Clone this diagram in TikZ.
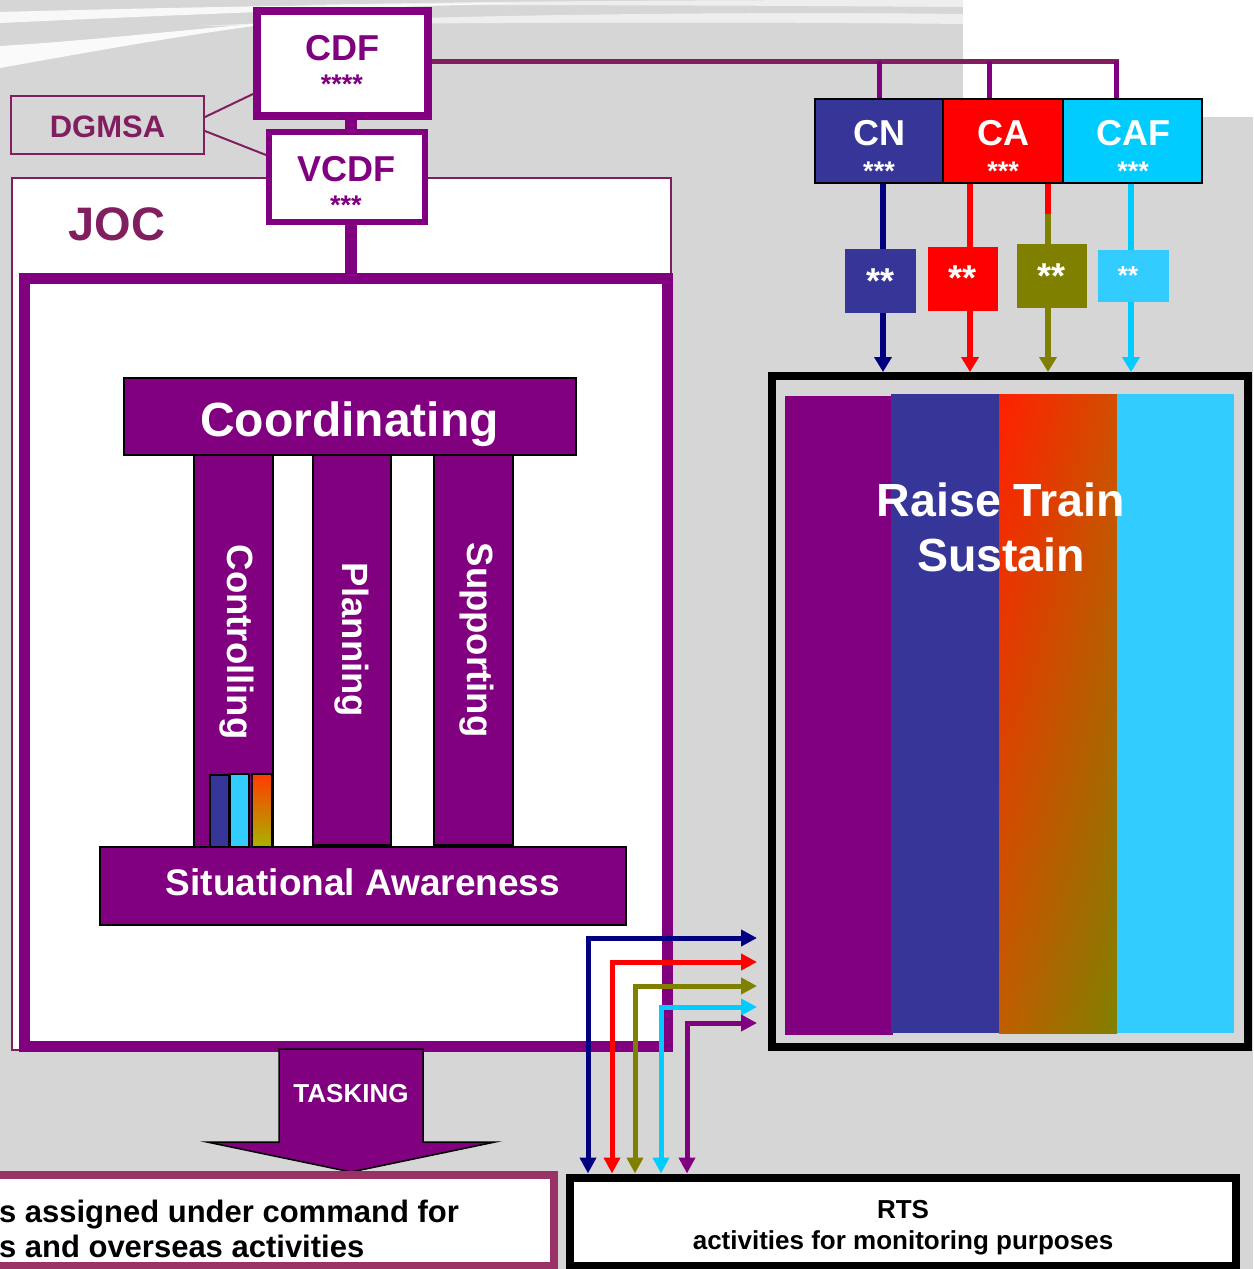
\documentclass[tikz,border=0pt]{standalone}
\usepackage{fontspec}
\setmainfont{Liberation Sans}
\usepackage{graphicx}
\usetikzlibrary{arrows.meta,calc,shadings}
\definecolor{bggray}{RGB}{214,214,214}
\definecolor{purp}{RGB}{128,0,128}
\definecolor{plum}{RGB}{128,30,96}
\definecolor{rose}{RGB}{153,51,102}
\definecolor{cnblue}{RGB}{54,54,152}
\definecolor{navyc}{RGB}{0,0,128}
\definecolor{redc}{RGB}{255,0,0}
\definecolor{olivec}{RGB}{128,128,0}
\definecolor{cafc}{RGB}{0,204,255}
\definecolor{ltcyan}{RGB}{51,204,255}
\definecolor{gradtop}{RGB}{255,32,0}
\definecolor{gradtr}{RGB}{210,78,0}
\definecolor{gradbl}{RGB}{192,94,0}
\definecolor{smtop}{RGB}{255,60,0}
\definecolor{smbot}{RGB}{160,190,0}
\newcommand\fs[1]{\fontsize{#1}{#1}\selectfont}
\begin{document}
\begin{tikzpicture}[x=1pt,y=-1pt,
  box/.style={rectangle, inner sep=0pt},
  txt/.style={inner sep=0pt, outer sep=0pt},
  wtxt/.style={txt, text=white},
  bar/.style={line width=12pt, purp},
  lw6/.style={line width=6pt},
  arr/.style={line width=6pt, -{Triangle[width=17pt,length=15pt]}},
  fb/.style={line width=5pt, {Triangle[width=16pt,length=16pt]}-{Triangle[width=16pt,length=16pt]}},
  cbox/.style={box, draw=black, line width=2pt},
]
\useasboundingbox (0,0) rectangle (1253,1269);
% backdrop
\fill[bggray] (0,0) rectangle (1253,1269);
\fill[white] (963,0) rectangle (1253,117);
% swooshes
\fill[white,opacity=0.9] (0,46) .. controls (100,40) and (200,28) .. (300,20) .. controls (200,32) and (100,50) .. (0,68) -- cycle;
\fill[white,opacity=0.85] (0,12) .. controls (150,8) and (300,5) .. (520,3) .. controls (300,10) and (150,16) .. (0,23) -- cycle;
\fill[white,opacity=0.6] (200,26) .. controls (400,16) and (700,11) .. (963,14) -- (963,24) .. controls (700,21) and (400,23) .. (200,26) -- cycle;
\fill[white,opacity=0.6] (300,5) .. controls (500,1) and (700,0) .. (963,0) -- (963,7) .. controls (700,5) and (500,5) .. (300,5) -- cycle;

% JOC
\node[box, draw=plum, line width=2pt, fill=white, minimum width=659pt, minimum height=872pt] (joc) at (341.5,614) {};
\node[box, draw=purp, line width=11pt, minimum width=643pt, minimum height=768pt] (jth) at (345.5,662) {};
\node[txt, text=plum, font={\fs{47}\bfseries}, anchor=base] (joct) at (117,240) {JOC};

% top boxes
\node[box, draw=purp, line width=8pt, fill=white, minimum width=171pt, minimum height=105pt] (cdf) at (342.5,63.5) {};
\node[box, draw=purp, line width=6pt, fill=white, minimum width=156pt, minimum height=90pt] (vcdf) at (347,177) {};
\node[box, draw=plum, line width=2pt, minimum width=193pt, minimum height=58pt] (dgmsa) at (107.5,125) {};
\node[txt, text=purp, font={\fs{36}\bfseries}, anchor=base] (cdft) at (342.5,60) {CDF};
\node[txt, text=purp, font={\fs{27}\bfseries}, anchor=base] (cdfs) at (342,93) {****};
\node[txt, text=purp, font={\fs{36}\bfseries}, anchor=base] (vcdft) at (346,181) {VCDF};
\node[txt, text=purp, font={\fs{27}\bfseries}, anchor=base] (vcdfs) at (346,214) {***};
\node[txt, text=plum, font={\fs{31}\bfseries}, anchor=base] (dgmsat) at (107.5,137) {DGMSA};
\coordinate (jx) at (351,0);
\draw[bar] (jx |- cdf.south) -- (jx |- vcdf.north);
\draw[bar] (jx |- vcdf.south) -- (jx |- jth.north);
\draw[plum, line width=2pt] (dgmsa.east |- 0,117) -- (cdf.west |- 0,94);
\draw[plum, line width=2pt] (dgmsa.east |- 0,131) -- (vcdf.west |- 0,155);

% pillars
\node[cbox, line width=1.5pt, fill=purp, minimum width=79pt, minimum height=395pt] (ctrl) at (233.5,652.5) {};
\node[cbox, line width=1.5pt, fill=purp, minimum width=78pt, minimum height=390pt] (plan) at (352,650) {};
\node[cbox, line width=1.5pt, fill=purp, minimum width=79pt, minimum height=390pt] (supp) at (473.5,650) {};
\node[wtxt, font={\fs{36.5}\bfseries}, rotate=-90] (ctrlt) at (237,642) {Controlling};
\node[wtxt, font={\fs{36.5}\bfseries}, rotate=-90] (plant) at (352,640) {Planning};
\node[wtxt, font={\fs{36.5}\bfseries}, rotate=-90] (suppt) at (477,640) {Supporting};
\node[cbox, line width=1.5pt, fill=purp, minimum width=452pt, minimum height=77pt] (coord) at (350,416.5) {};
\node[wtxt, font={\fs{48}\bfseries}, anchor=base] (coordt) at (349.5,436) {Coordinating};
% small bars
\node[box, draw=black, line width=2.5pt, fill=cnblue, minimum width=19pt, minimum height=78pt] (sb1) at (219.5,814) {};
\node[box, draw=black, line width=2.5pt, fill=ltcyan, minimum width=19pt, minimum height=78pt] (sb2) at (239.5,813) {};
\shade[top color=smtop, bottom color=smbot] (252,774) rectangle (272,854);
\draw[black, line width=2.5pt] (252,774) rectangle (272,854);
\node[cbox, line width=1.5pt, fill=purp, minimum width=526pt, minimum height=78pt] (sa) at (363,886) {};
\node[wtxt, font={\fs{37}\bfseries}, anchor=base] (sat) at (363,895) {Situational Awareness};

% TASKING arrow
\filldraw[fill=purp, draw=black, line width=1.5pt] (279,1049) -- (423,1049) -- (423,1142) -- (495,1142) -- (351,1172) -- (207,1142) -- (279,1142) -- cycle;
\node[wtxt, font={\fs{26}\bfseries}, anchor=base] (task) at (351,1102) {TASKING};

% bottom-left box
\node[box, draw=rose, line width=8pt, fill=white, minimum width=584pt, minimum height=91pt] (bl) at (262,1220.5) {};
\node[txt, font={\fs{31}\bfseries}, anchor=base west] (bl1) at (-1,1222) {s assigned under command for};
\node[txt, font={\fs{31}\bfseries}, anchor=base west] (bl2) at (-1,1257) {s and overseas activities};

% RTS box
\node[box, draw=black, line width=8pt, fill=white, minimum width=666pt, minimum height=88pt] (rts) at (903,1221.5) {};
\node[txt, font={\fs{26}\bfseries}, anchor=base] (rts1) at (903,1218) {RTS};
\node[txt, font={\fs{26}\bfseries}, anchor=base] (rts2) at (903,1249) {activities for monitoring purposes};

% services
\node[cbox, fill=cnblue, minimum width=128pt, minimum height=84pt] (cn) at (879,141) {};
\node[cbox, fill=redc, minimum width=120pt, minimum height=84pt] (ca) at (1003,141) {};
\node[cbox, fill=cafc, minimum width=139pt, minimum height=84pt] (caf) at (1132.5,141) {};
\node[wtxt, font={\fs{36}\bfseries}, anchor=base] (cnt) at (879.5,145) {CN};
\node[wtxt, font={\fs{36}\bfseries}, anchor=base] (cat) at (1003,145) {CA};
\node[wtxt, font={\fs{36}\bfseries}, anchor=base] (caft) at (1133,145) {CAF};
\node[wtxt, font={\fs{27}\bfseries}, anchor=base] (cns) at (879,180) {***};
\node[wtxt, font={\fs{27}\bfseries}, anchor=base] (cas) at (1003,180) {***};
\node[wtxt, font={\fs{27}\bfseries}, anchor=base] (cafs) at (1133,180) {***};

% bus
\coordinate (bus) at (1118.5,61);
\coordinate (d1) at (879,61);
\coordinate (d2) at (989,61);
\coordinate (d3) at (1116,61);
\draw[plum, line width=5pt] (cdf.east |- bus) -- (bus);
\draw[purp, line width=5pt] (d1) -- (d1 |- cn.north);
\draw[purp, line width=5pt] (d2) -- (d2 |- ca.north);
\draw[purp, line width=5pt] (d3) -- (d3 |- caf.north);

% two-star boxes
\node[box, fill=cnblue, minimum width=71pt, minimum height=64pt] (nb) at (880.5,281) {};
\node[box, fill=redc, minimum width=70pt, minimum height=64pt] (rb) at (963,279) {};
\node[box, fill=olivec, minimum width=70pt, minimum height=64pt] (ob) at (1052,276) {};
\node[box, fill=ltcyan, minimum width=71pt, minimum height=52pt] (cb) at (1133.5,276) {};
\node[wtxt, font={\fs{36}\bfseries}, anchor=base] (nbt) at (880,293) {**};
\node[wtxt, font={\fs{36}\bfseries}, anchor=base] (rbt) at (962,290) {**};
\node[wtxt, font={\fs{36}\bfseries}, anchor=base] (obt) at (1051,288) {**};
\node[wtxt, font={\fs{26}\bfseries}, anchor=base] (cbt) at (1128,284) {**};

% big box
\node[box, draw=black, line width=8pt, minimum width=476pt, minimum height=671pt] (big) at (1010,711.5) {};
\fill[purp] (785,396) rectangle (893,1035);
\fill[cnblue] (891,394) rectangle (999,1033);
\shade[upper left=gradtop, upper right=gradtr, lower left=gradbl, lower right=olivec] (999,394) rectangle (1117,1033);
\fill[ltcyan] (1117,394) rectangle (1234,1033);
\node[wtxt, font={\fs{46.5}\bfseries}, anchor=base] (rt1) at (1001,516) {Raise Train};
\node[wtxt, font={\fs{46.5}\bfseries}, anchor=base] (rt2) at (1001,571) {Sustain};

% service arrows
\coordinate (t1) at (883,0);
\coordinate (t2) at (970,0);
\coordinate (t3) at (1048,214);
\coordinate (t4) at (1131,0);
\draw[lw6, navyc] (t1 |- cn.south) -- (t1 |- nb.north);
\draw[arr, navyc] (t1 |- nb.south) -- (t1 |- big.north);
\draw[lw6, redc] (t2 |- ca.south) -- (t2 |- rb.north);
\draw[arr, redc] (t2 |- rb.south) -- (t2 |- big.north);
\draw[lw6, redc] (t3 |- ca.south) -- (t3);
\draw[lw6, olivec] (t3) -- (t3 |- ob.north);
\draw[arr, olivec] (t3 |- ob.south) -- (t3 |- big.north);
\draw[lw6, cafc] (t4 |- caf.south) -- (t4 |- cb.north);
\draw[arr, cafc] (t4 |- cb.south) -- (t4 |- big.north);

% feedback arrows
\coordinate (f1) at (757,938);  \coordinate (c1) at (588,938);
\coordinate (f2) at (757,962);  \coordinate (c2) at (612,962);
\coordinate (f3) at (757,986);  \coordinate (c3) at (635,986);
\coordinate (f4) at (757,1007); \coordinate (c4) at (661,1007);
\coordinate (f5) at (757,1023); \coordinate (c5) at (687,1023);
\draw[fb, navyc] (f1) -- (c1) -- (c1 |- rts.north);
\draw[fb, redc] (f2) -- (c2) -- (c2 |- rts.north);
\draw[fb, olivec] (f3) -- (c3) -- (c3 |- rts.north);
\draw[fb, cafc] (f4) -- (c4) -- (c4 |- rts.north);
\draw[fb, purp] (f5) -- (c5) -- (c5 |- rts.north);
\end{tikzpicture}
\end{document}
